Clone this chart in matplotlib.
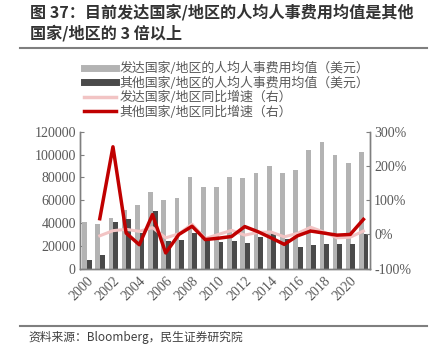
import matplotlib.pyplot as plt
import numpy as np
from matplotlib.lines import Line2D

plt.rcParams['font.family'] = ['Noto Sans CJK SC', 'DejaVu Sans']

# data
years = list(range(2000, 2022))
dev_cost = [41000, 39500, 44400, 51000, 55800, 66900, 60100, 61600, 80600, 71200, 71500,
            80300, 79100, 84100, 90200, 83800, 86100, 104200, 111200, 99900, 92300, 101900]
oth_cost = [7900, 11700, 41200, 43800, 31500, 50500, 24500, 24800, 30900, 25100, 23600,
            23900, 22800, 27700, 30400, 26300, 19300, 20700, 21300, 21300, 21300, 30400]
# growth in %, first year has none
dev_growth = [np.nan, -4, 11, 15, 9, 20, -10, 2, 30, -12, 0,
              12, -2, 6, 7, -7, 3, 21, 7, -10, -8, 10]
oth_growth = [np.nan, 46, 256, 4, -30, 58, -54, 0, 24, -15, -11,
              -6, 23, 8, -10, -29, -4, 10, 4, -2, 0, 44]

labels = ['发达国家/地区的人均人事费用均值（美元）', '其他国家/地区的人均人事费用均值（美元）',
          '发达国家/地区同比增速（右）', '其他国家/地区同比增速（右）']

c_light = '#b3b3b3'
c_dark = '#4a4a4a'
c_pink = '#f2c4c4'
c_red = '#c00000'
c_text = '#595959'

W, H = 432, 346
fig = plt.figure(figsize=(W / 100, H / 100), dpi=100)
ax = fig.add_axes([80 / W, 1 - 268.7 / H, 290 / W, 137 / H])
ax2 = ax.twinx()

x = np.arange(len(years))
ax.bar(x - 0.15, dev_cost, width=0.36, color=c_light, zorder=2)
ax.bar(x + 0.2, oth_cost, width=0.36, color=c_dark, zorder=2)
ax2.plot(x, dev_growth, color=c_pink, lw=2.2, zorder=3)
ax2.plot(x, oth_growth, color=c_red, lw=2.5, zorder=4)

ax.set_xlim(-0.5, len(years) - 0.5)
ax.set_ylim(0, 120000)
ax.set_yticks(range(0, 120001, 20000))
ax2.set_ylim(-100, 300)
ax2.set_yticks([-100, 0, 100, 200, 300])
ax2.set_yticklabels(['-100%', '0%', '100%', '200%', '300%'])

ax.set_xticks(x[::2])
ax.set_xticklabels([str(y) for y in years[::2]], rotation=45, ha='right',
                   va='top', rotation_mode='anchor')

for a in (ax, ax2):
    a.spines['top'].set_visible(False)
    for s in ('left', 'right', 'bottom'):
        a.spines[s].set_color('#7f7f7f')
        a.spines[s].set_linewidth(1.0)
    a.tick_params(direction='in', length=3, color='#7f7f7f', labelcolor=c_text,
                  labelsize=10, pad=3, labelfontfamily='Liberation Serif')
ax.tick_params(axis='x', length=0, pad=4)
ax.set_zorder(ax2.get_zorder() - 1)
ax2.patch.set_visible(False)

handles = [Line2D([], [], color=c_light, lw=5), Line2D([], [], color=c_dark, lw=5),
           Line2D([], [], color=c_pink, lw=2.5), Line2D([], [], color=c_red, lw=2.5)]
fig.legend(handles, labels, loc='upper left', bbox_to_anchor=(84 / W, 1 - 62 / H),
           frameon=False, fontsize=9.3, labelcolor=c_text, handlelength=2.5,
           handletextpad=0.25, labelspacing=0.1, borderpad=0, borderaxespad=0)

# title and source
fig.text(30 / W, 1 - 12 / H, '图 37：目前发达国家/地区的人均人事费用均值是其他',
         fontsize=11.6, fontweight='bold', color='#333333', va='center', ha='left')
fig.text(30 / W, 1 - 33 / H, '国家/地区的 3 倍以上',
         fontsize=11.6, fontweight='bold', color='#333333', va='center', ha='left')
fig.add_artist(Line2D([20 / W, 427 / W], [1 - 48 / H, 1 - 48 / H], color='#7f7f7f', lw=1.5))
fig.add_artist(Line2D([20 / W, 427 / W], [1 - 326 / H, 1 - 326 / H], color='#7f7f7f', lw=1.5))
fig.text(28 / W, 1 - 337 / H, '资料来源：Bloomberg，民生证券研究院',
         fontsize=8.5, color='#404040', va='center', ha='left')

fig.savefig('out.png', dpi=100)
